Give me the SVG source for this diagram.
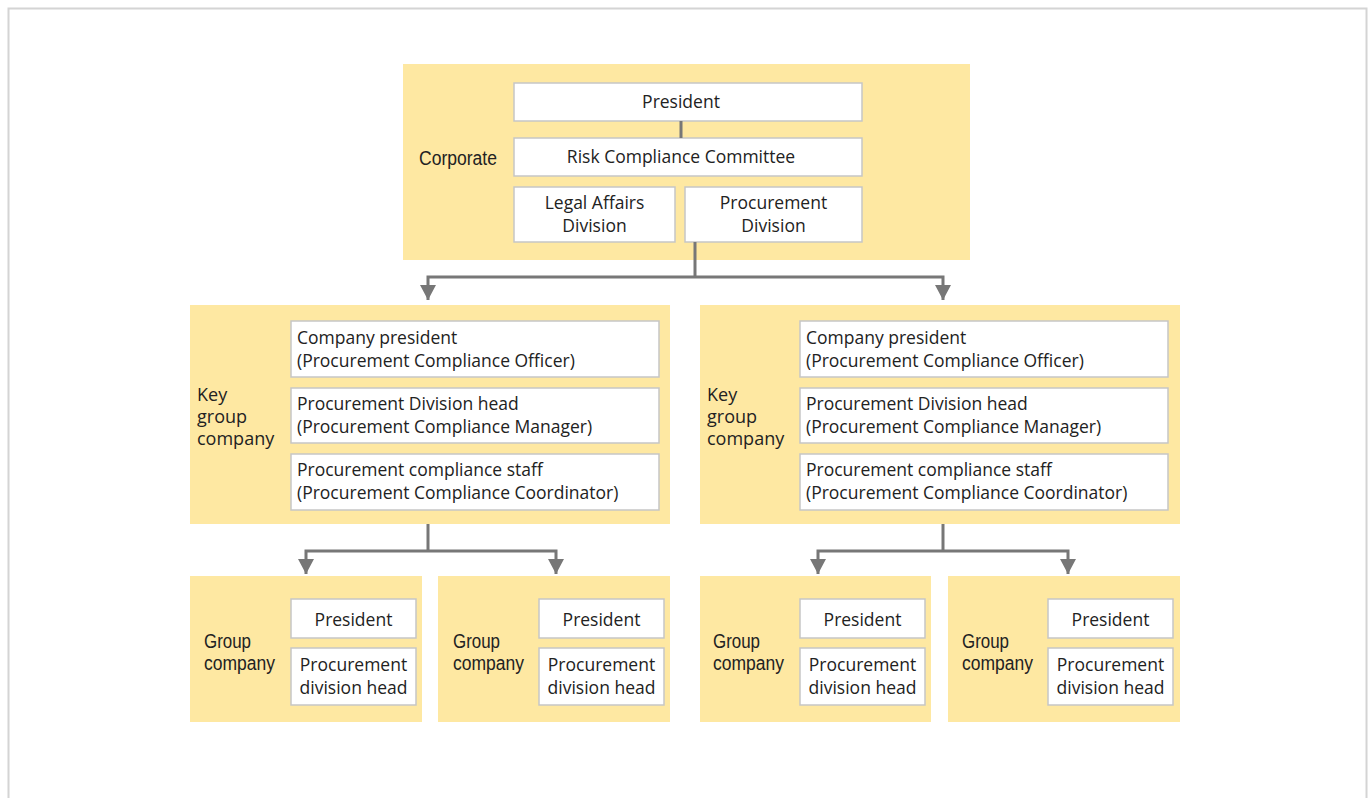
<svg xmlns="http://www.w3.org/2000/svg" width="1370" height="798" viewBox="0 0 1370 798">
<style>
.panel{fill:#fee8a2}
.box{fill:#fff;stroke:#c6c6c6;stroke-width:1.5}
.t{font-family:"Open Sans","Liberation Sans",sans-serif;font-size:17.5px;fill:#222}
.k{font-size:18px}
.c{text-anchor:middle}
.lbl{font-family:"Liberation Sans Narrow","Liberation Sans",sans-serif;font-size:20px;fill:#222}
.conn{fill:none;stroke:#777;stroke-width:3}
</style>
<defs>
<marker id="arr" viewBox="0 0 16 15" refX="8" refY="15" markerWidth="16" markerHeight="15" markerUnits="userSpaceOnUse" orient="0">
<path d="M0,0 L16,0 L8,15 Z" fill="#777"/>
</marker>
</defs>
<rect x="8.5" y="8.5" width="1358" height="800" fill="#fff" stroke="#d4d4d4" stroke-width="2"/>

<g id="corporate">
<rect class="panel" x="403" y="64" width="567" height="196"/>
<text class="lbl" x="419" y="165" textLength="78" lengthAdjust="spacingAndGlyphs">Corporate</text>
<rect class="box" x="514" y="83" width="348" height="38"/>
<text class="t c" x="681" y="108">President</text>
<rect class="box" x="514" y="138" width="348" height="38"/>
<text class="t c" x="681" y="163">Risk Compliance Committee</text>
<rect class="box" x="514" y="187" width="161" height="55"/>
<text class="t c" x="594.5" y="209">Legal Affairs</text>
<text class="t c" x="594.5" y="232">Division</text>
<rect class="box" x="685" y="187" width="177" height="55"/>
<text class="t c" x="773.5" y="209">Procurement</text>
<text class="t c" x="773.5" y="232">Division</text>
</g>

<g id="key-left">
<rect class="panel" x="190" y="305" width="480" height="219"/>
<text class="t k" x="197" y="401">Key</text>
<text class="t k" x="197" y="423">group</text>
<text class="t k" x="197" y="445">company</text>
<rect class="box" x="291" y="321" width="368" height="56"/>
<text class="t" x="297" y="344">Company president</text>
<text class="t" x="297" y="367">(Procurement Compliance Officer)</text>
<rect class="box" x="291" y="388" width="368" height="55"/>
<text class="t" x="297" y="410">Procurement Division head</text>
<text class="t" x="297" y="433">(Procurement Compliance Manager)</text>
<rect class="box" x="291" y="454" width="368" height="56"/>
<text class="t" x="297" y="476">Procurement compliance staff</text>
<text class="t" x="297" y="499">(Procurement Compliance Coordinator)</text>
</g>

<g id="key-right">
<rect class="panel" x="700" y="305" width="480" height="219"/>
<text class="t k" x="707" y="401">Key</text>
<text class="t k" x="707" y="423">group</text>
<text class="t k" x="707" y="445">company</text>
<rect class="box" x="800" y="321" width="368" height="56"/>
<text class="t" x="806" y="344">Company president</text>
<text class="t" x="806" y="367">(Procurement Compliance Officer)</text>
<rect class="box" x="800" y="388" width="368" height="55"/>
<text class="t" x="806" y="410">Procurement Division head</text>
<text class="t" x="806" y="433">(Procurement Compliance Manager)</text>
<rect class="box" x="800" y="454" width="368" height="56"/>
<text class="t" x="806" y="476">Procurement compliance staff</text>
<text class="t" x="806" y="499">(Procurement Compliance Coordinator)</text>
</g>

<g id="group-1">
<rect class="panel" x="190" y="576" width="232" height="146"/>
<text class="lbl" x="204" y="648" textLength="47" lengthAdjust="spacingAndGlyphs">Group</text>
<text class="lbl" x="204" y="670" textLength="71" lengthAdjust="spacingAndGlyphs">company</text>
<rect class="box" x="291" y="599" width="125" height="39"/>
<text class="t c" x="353.5" y="626">President</text>
<rect class="box" x="291" y="648" width="125" height="57"/>
<text class="t c" x="353.5" y="671">Procurement</text>
<text class="t c" x="353.5" y="694">division head</text>
</g>

<g id="group-2">
<rect class="panel" x="438" y="576" width="232" height="146"/>
<text class="lbl" x="453" y="648" textLength="47" lengthAdjust="spacingAndGlyphs">Group</text>
<text class="lbl" x="453" y="670" textLength="71" lengthAdjust="spacingAndGlyphs">company</text>
<rect class="box" x="539" y="599" width="125" height="39"/>
<text class="t c" x="601.5" y="626">President</text>
<rect class="box" x="539" y="648" width="125" height="57"/>
<text class="t c" x="601.5" y="671">Procurement</text>
<text class="t c" x="601.5" y="694">division head</text>
</g>

<g id="group-3">
<rect class="panel" x="700" y="576" width="231" height="146"/>
<text class="lbl" x="713" y="648" textLength="47" lengthAdjust="spacingAndGlyphs">Group</text>
<text class="lbl" x="713" y="670" textLength="71" lengthAdjust="spacingAndGlyphs">company</text>
<rect class="box" x="800" y="599" width="125" height="39"/>
<text class="t c" x="862.5" y="626">President</text>
<rect class="box" x="800" y="648" width="125" height="57"/>
<text class="t c" x="862.5" y="671">Procurement</text>
<text class="t c" x="862.5" y="694">division head</text>
</g>

<g id="group-4">
<rect class="panel" x="948" y="576" width="232" height="146"/>
<text class="lbl" x="962" y="648" textLength="47" lengthAdjust="spacingAndGlyphs">Group</text>
<text class="lbl" x="962" y="670" textLength="71" lengthAdjust="spacingAndGlyphs">company</text>
<rect class="box" x="1048" y="599" width="125" height="39"/>
<text class="t c" x="1110.5" y="626">President</text>
<rect class="box" x="1048" y="648" width="125" height="57"/>
<text class="t c" x="1110.5" y="671">Procurement</text>
<text class="t c" x="1110.5" y="694">division head</text>
</g>

<g id="connectors">
<line class="conn" x1="681" y1="121" x2="681" y2="138"/>
<line class="conn" x1="695" y1="242" x2="695" y2="277"/>
<path class="conn" d="M695,277 H428 V300" marker-end="url(#arr)"/>
<path class="conn" d="M695,277 H943 V300" marker-end="url(#arr)"/>
<line class="conn" x1="428" y1="524" x2="428" y2="551"/>
<path class="conn" d="M428,551 H306 V574" marker-end="url(#arr)"/>
<path class="conn" d="M428,551 H556 V574" marker-end="url(#arr)"/>
<line class="conn" x1="943" y1="524" x2="943" y2="551"/>
<path class="conn" d="M943,551 H818 V574" marker-end="url(#arr)"/>
<path class="conn" d="M943,551 H1068 V574" marker-end="url(#arr)"/>
</g>
</svg>
